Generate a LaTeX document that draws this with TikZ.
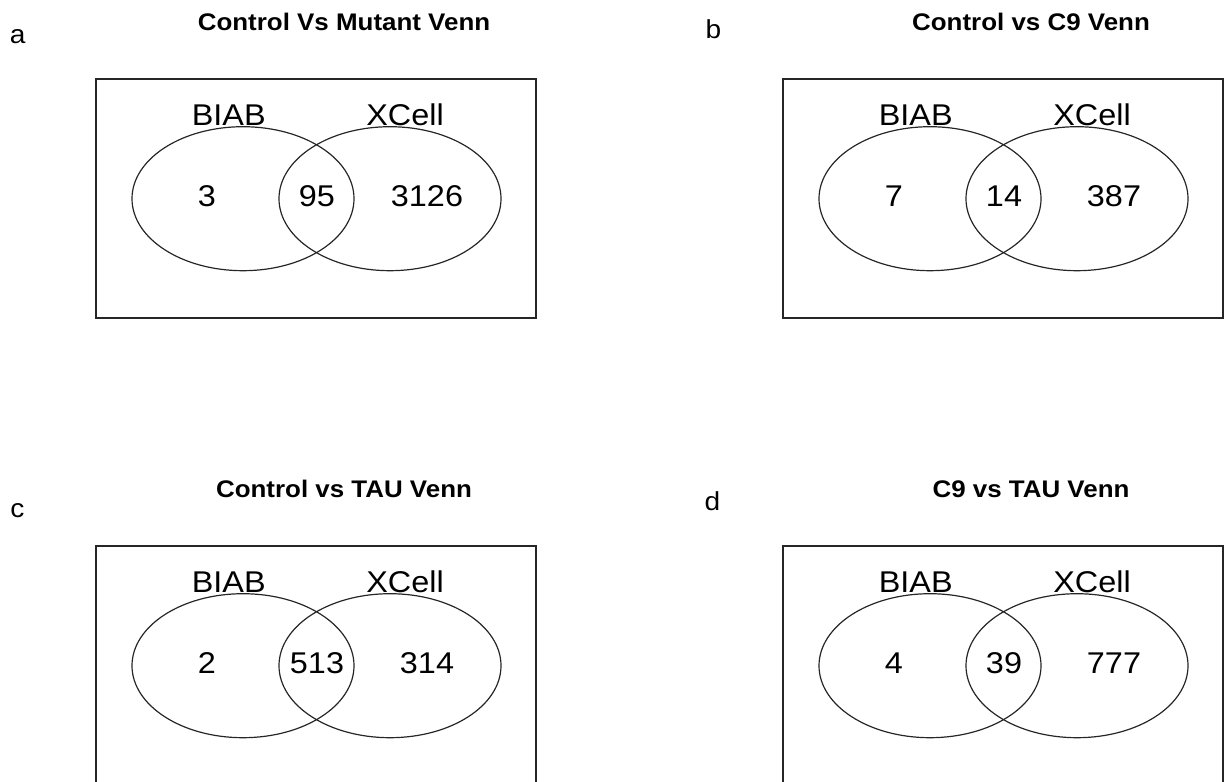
\documentclass[tikz,border=0pt]{standalone}
\usepackage{fontspec}
\setmainfont{Liberation Sans}[FakeStretch=1.08]
\usetikzlibrary{shapes.geometric}

\tikzset{
  frame/.style={draw=black!85, line width=1.3pt, minimum width=440pt,
    minimum height=239pt, inner sep=0pt, outer sep=0pt},
  vset/.style={ellipse, draw=black!85, line width=1.2pt, minimum width=222pt,
    minimum height=144pt, inner sep=0pt, outer sep=0pt},
  setname/.style={anchor=base, inner sep=0pt, font=\fontsize{30}{36}\selectfont},
  count/.style={anchor=base, inner sep=0pt, font=\fontsize{30}{36}\selectfont},
  paneltitle/.style={anchor=base, inner sep=0pt, font=\bfseries\fontsize{24}{29}\selectfont},
  panelletter/.style={anchor=base, inner sep=0pt, font=\fontsize{26}{31}\selectfont},
}

% One Venn panel: #1 name, #2 offset, #3 letter position, #4 letter,
% #5 title, #6 BIAB only, #7 shared, #8 XCell only
\newcommand\vennpanel[8]{%
  \begin{scope}[shift={(#2)}]
    \node[frame] (#1-box) at (316,198.5) {};
    \node[vset] (#1-biab) at (243,198.7) {};
    \node[vset] (#1-xcell) at (390,198.7) {};
    \node[setname] (#1-biab-name) at (228.7,125) {BIAB};
    \node[setname] (#1-xcell-name) at (405,125) {XCell};
    \node[count] (#1-only-biab) at (207,206) {#6};
    \node[count] (#1-both) at (317,206) {#7};
    \node[count] (#1-only-xcell) at (427,206) {#8};
    \node[paneltitle] (#1-title) at (344,30.7) {#5};
  \end{scope}
  \node[panelletter] (#1-letter) at (#3) {#4};
}

\begin{document}
\begin{tikzpicture}[x=1pt, y=-1pt]
  \useasboundingbox (0,0) rectangle (1224,782);
  \vennpanel{pa}{0,0}{17.6,43.3}{a}{Control Vs Mutant Venn}{3}{95}{3126}
  \vennpanel{pb}{687,0}{713.5,38.3}{b}{Control vs C9 Venn}{7}{14}{387}
  \vennpanel{pc}{0,467}{17.3,517.3}{c}{Control vs TAU Venn}{2}{513}{314}
  \vennpanel{pd}{687,467}{712.5,510.7}{d}{C9 vs TAU Venn}{4}{39}{777}
\end{tikzpicture}
\end{document}
